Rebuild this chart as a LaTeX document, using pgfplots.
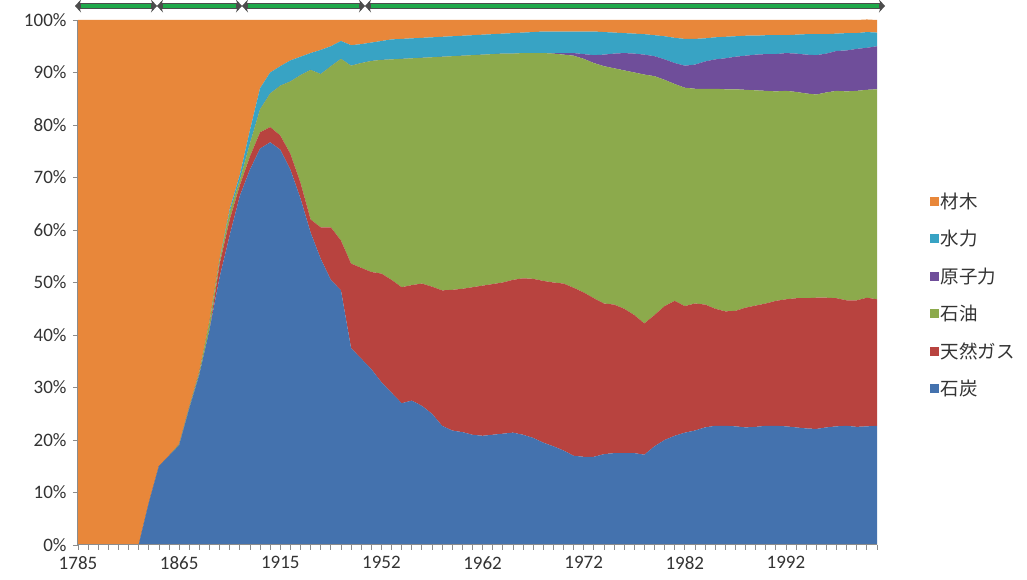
\documentclass[border=0pt]{standalone}
\usepackage{fontspec}
\setmainfont{Carlito}
\newfontfamily\jp{Noto Sans CJK JP}
\usepackage{pgfplots}
\pgfplotsset{compat=1.18}
\usepackage{pgfplotstable}
\usetikzlibrary{arrows.meta}

\definecolor{cCoal}{HTML}{4472AE}
\definecolor{cGas}{HTML}{B8433F}
\definecolor{cOil}{HTML}{8CAA4C}
\definecolor{cNuc}{HTML}{6F4E9A}
\definecolor{cHyd}{HTML}{38A3C4}
\definecolor{cWood}{HTML}{E8873A}
\definecolor{axgray}{HTML}{8C8C8C}
\definecolor{brgreen}{HTML}{1FA84A}

% share of primary energy (%), categories 1785..1845 (10 y), 1850..1945 (5 y), 1949..2001 (1 y)
\pgfplotstableread{
idx coal gas oil nuc hydro wood
0 0 0 0 0 0 100
1 0 0 0 0 0 100
2 0 0 0 0 0 100
3 0 0 0 0 0 100
4 0 0 0 0 0 100
5 0 0 0 0 0 100
6 0 0 0 0 0 100
7 8 0 0 0 0 92
8 15 0 0 0 0 85
9 17 0 0 0 0 83
10 19 0 0.2 0 0 80.8
11 26 0 0.3 0 0 73.7
12 32.5 0 0.5 0 0 67
13 41 0 1.5 0 0 57.5
14 51 2.5 0.7 0 0.2 45.6
15 59 3 1.5 0 0.5 36
16 66.5 2 1 0 1 29.5
17 71.5 2.5 2.5 0 2.5 21
18 75.5 3.1 4.4 0 4 13
19 76.7 2.9 6.4 0 4 10
20 75.3 2.7 9.5 0 3.7 8.8
21 71.5 3 13.8 0 4 7.7
22 66 3 20.5 0 3.5 7
23 59.5 2.5 28.5 0 3.2 6.3
24 54.5 6 29.2 0 4.6 5.7
25 50.5 10 30.7 0 3.8 5
26 48.5 9.5 34.6 0 3.4 4
27 37.5 16.1 37.7 0 3.9 4.8
28 35.5 17.3 39 0 3.6 4.6
29 33.5 18.5 40.2 0 3.5 4.3
30 31 20.7 40.7 0 3.6 4
31 29 21.5 42 0 3.8 3.7
32 27 22.1 43.5 0 3.8 3.6
33 27.5 22 43.2 0 3.8 3.5
34 26.5 23.3 43 0 3.8 3.4
35 25 24.2 43.7 0 3.8 3.3
36 22.7 25.8 44.5 0 3.8 3.2
37 21.8 26.8 44.5 0 3.8 3.1
38 21.5 27.3 44.4 0 3.8 3
39 21 28.1 44.2 0 3.8 2.9
40 20.8 28.6 44 0 3.8 2.8
41 21 28.7 43.8 0 3.8 2.7
42 21.2 28.8 43.6 0 3.8 2.6
43 21.4 29.1 43.1 0 3.9 2.5
44 21 29.8 42.9 0 3.9 2.4
45 20.4 30.3 43 0 4 2.3
46 19.5 30.8 43.4 0 4.1 2.2
47 18.8 31.2 43.6 0.1 4.1 2.2
48 18 31.8 43.6 0.3 4.1 2.2
49 17 32 44.2 0.5 4.1 2.2
50 16.8 31.3 44.5 0.9 4.3 2.2
51 16.8 30.2 44.8 1.5 4.5 2.2
52 17.3 28.7 45.2 2.2 4.3 2.3
53 17.5 28.3 45 2.8 4 2.4
54 17.5 27.5 45.4 3.3 3.8 2.5
55 17.5 26.3 46.2 3.6 3.8 2.6
56 17.2 25 47.4 3.8 3.9 2.7
57 18.8 25 45.5 3.8 4 2.9
58 20 25.5 43.1 3.9 4.4 3.1
59 20.8 25.7 41.3 4 4.8 3.4
60 21.4 24.1 41.6 4.2 5.1 3.6
61 21.8 24.2 40.9 4.6 4.9 3.6
62 22.4 23.4 41.1 5.2 4.4 3.5
63 22.7 22.3 41.9 5.6 4.2 3.3
64 22.7 21.8 42.3 5.9 4.1 3.2
65 22.6 22 42.2 6.2 3.9 3.1
66 22.4 22.8 41.5 6.5 3.8 3
67 22.5 23.1 41 6.8 3.6 3
68 22.7 23.3 40.5 7 3.6 2.9
69 22.7 23.8 39.9 7.1 3.6 2.9
70 22.6 24.2 39.7 7.2 3.4 2.9
71 22.4 24.6 39.3 7.3 3.6 2.8
72 22.2 24.8 39 7.4 3.9 2.7
73 22.1 25 38.7 7.5 4 2.7
74 22.4 24.7 39.1 7.4 3.7 2.7
75 22.6 24.4 39.5 7.6 3.3 2.6
76 22.7 23.9 39.8 7.8 3.3 2.5
77 22.5 24.1 39.9 8 3 2.5
78 22.6 24.5 39.6 8 3 2.4
79 22.7 24.1 40 8.2 2.6 2.4
}\data

\begin{document}
\begin{tikzpicture}
\path[use as bounding box] (-78pt,-35pt) rectangle (949pt,545pt);
\begin{axis}[
  at={(0pt,0pt)}, anchor=south west,
  width=799pt, height=525pt, scale only axis,
  xmin=0, xmax=79, ymin=0, ymax=100,
  stack plots=y, area style,
  axis x line*=bottom, axis y line*=left,
  axis line style={axgray, line width=1pt},
  tick align=outside,
  major tick length=5pt, minor tick length=5pt,
  tick style={axgray, line width=0.8pt},
  xtick={0,10,...,70},
  xticklabels={1785,1865,1915,1952,1962,1972,1982,1992},
  minor xtick={0,1,...,79},
  ytick={0,10,...,100},
  yticklabels={0\%,10\%,20\%,30\%,40\%,50\%,60\%,70\%,80\%,90\%,100\%},
  ticklabel style={font=\fontsize{19}{22}\selectfont, text=black!80},
  xticklabel style={yshift=-3pt},
  yticklabel style={xshift=-3pt},
  legend style={at={(1.062,0.476)}, anchor=west, draw=none, fill=none,
    font=\jp\fontsize{18.5}{22}\selectfont, text=black!80, row sep=16.5pt,
    legend cell align=left},
  reverse legend,
  legend image code/.code={\fill[#1] (0pt,-4.5pt) rectangle (9pt,4.5pt);},
]
\addplot[fill=cCoal, draw=none] table[x=idx, y=coal]{\data} \closedcycle;
\addplot[fill=cGas, draw=none] table[x=idx, y=gas]{\data} \closedcycle;
\addplot[fill=cOil, draw=none] table[x=idx, y=oil]{\data} \closedcycle;
\addplot[fill=cNuc, draw=none] table[x=idx, y=nuc]{\data} \closedcycle;
\addplot[fill=cHyd, draw=none] table[x=idx, y=hydro]{\data} \closedcycle;
\addplot[fill=cWood, draw=none] table[x=idx, y=wood]{\data} \closedcycle;
\legend{石炭,天然ガス,石油,原子力,水力,材木}
\end{axis}
% interval brackets above the plot
\foreach \a/\b in {-3/79, 79/164, 164/287, 287/807}{
  \draw[line width=6.5pt, draw=black!70, {Stealth[length=6pt,width=13pt]}-{Stealth[length=6pt,width=13pt]}] (\a pt,539pt) -- (\b pt,539pt);
  \draw[line width=3.8pt, brgreen] (\a pt+6pt,539pt) -- (\b pt-6pt,539pt);
}
\end{tikzpicture}
\end{document}
